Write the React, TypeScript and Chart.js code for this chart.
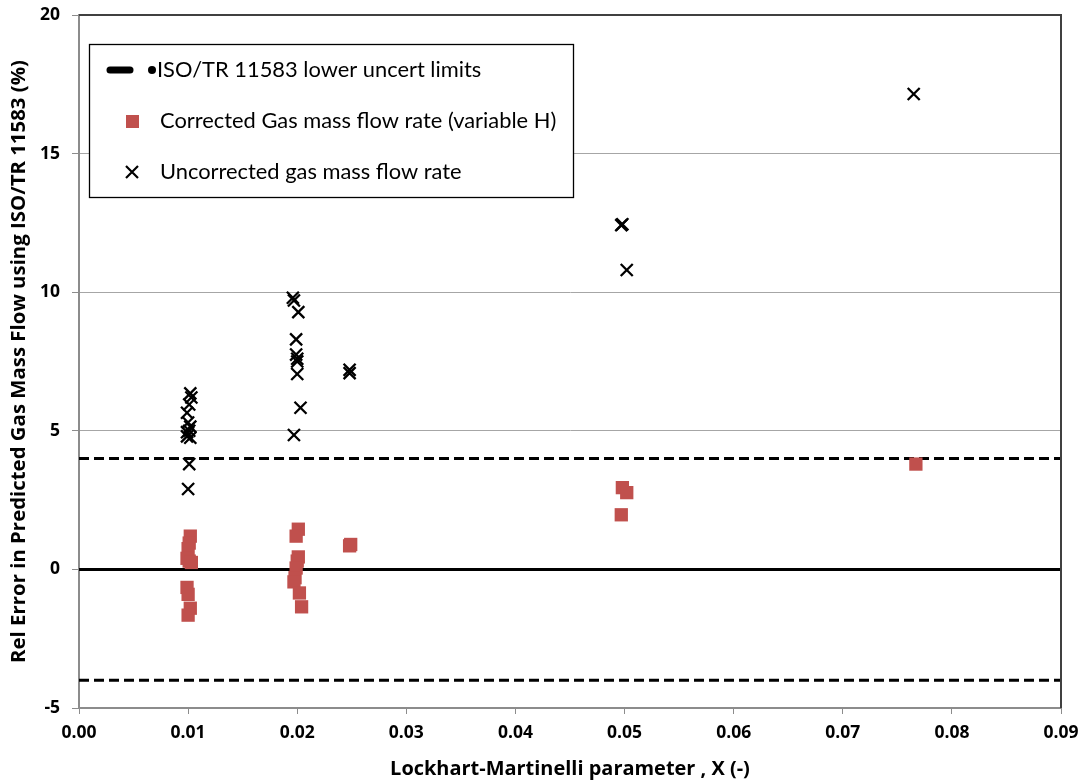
import React, { useEffect, useRef } from 'react';
import { Chart, registerables } from 'chart.js';

Chart.register(...registerables);

// X axis ticks
const xTickValues = [0, 0.01, 0.02, 0.03, 0.04, 0.05, 0.06, 0.07, 0.08, 0.09];
const yTickValues = [-5, 0, 5, 10, 15, 20];

// Uncertainty limits
const limitX = [0, 0.09];
const upperLimitY = [4, 4];
const lowerLimitY = [-4, -4];
const zeroLineY = [0, 0];

// Uncorrected gas mass flow rate
const uncorrX = [
  0.0102, 0.0103, 0.0101, 0.0099, 0.0100, 0.0102, 0.0101, 0.0099, 0.0099, 0.0102, 0.0101, 0.0100,
  0.0196, 0.0197, 0.0201, 0.0199, 0.0199, 0.0200, 0.0200, 0.0200, 0.0203, 0.0197,
  0.0248, 0.0248,
  0.0498, 0.0497, 0.0502,
  0.0765,
];
const uncorrY = [
  6.35, 6.2, 5.95, 5.65, 5.3, 5.15, 5.0, 4.95, 4.8, 4.75, 3.8, 2.9,
  9.8, 9.7, 9.28, 8.3, 7.75, 7.6, 7.5, 7.05, 5.83, 4.85,
  7.2, 7.08,
  12.45, 12.42, 10.8,
  17.15,
];

// Corrected gas mass flow rate (variable H)
const corrX = [
  0.0102, 0.0101, 0.0100, 0.0099, 0.0101, 0.0103, 0.0099, 0.0100, 0.0102, 0.0100,
  0.0201, 0.0199, 0.0201, 0.0200, 0.0199, 0.0198, 0.0197, 0.0202, 0.0204,
  0.0249, 0.0248,
  0.0498, 0.0502, 0.0497,
  0.0767,
];
const corrY = [
  1.2, 0.95, 0.75, 0.4, 0.3, 0.25, -0.65, -0.9, -1.4, -1.65,
  1.45, 1.2, 0.45, 0.3, 0.05, -0.3, -0.45, -0.85, -1.35,
  0.9, 0.85,
  2.95, 2.77, 1.97,
  3.8,
];

const legendLabels = [
  'ISO/TR 11583 lower uncert limits',
  'Corrected Gas mass flow rate (variable H)',
  'Uncorrected gas mass flow rate',
];
const xTitle = 'Lockhart-Martinelli parameter , X (-)';
const yTitle = 'Rel Error in Predicted Gas Mass Flow using ISO/TR 11583 (%)';

const RED = '#c0504d';
const LEGEND_FONT = 'Lato, "Open Sans", sans-serif';
const BOLD_FONT = '"Open Sans", "Noto Sans", sans-serif';

const zip = (xs: number[], ys: number[]) => xs.map((x, i) => ({ x, y: ys[i] }));

function fitSize(text: string, weight: string, family: string, target: number): number {
  const c = document.createElement('canvas');
  const ctx = c.getContext('2d');
  if (!ctx) return 18;
  ctx.font = `${weight} 20px ${family}`;
  const w = ctx.measureText(text).width;
  return w > 0 ? (20 * target) / w : 18;
}

const framePlugin = {
  id: 'frame',
  afterDatasetsDraw(chart: any) {
    const { ctx, chartArea } = chart;
    ctx.save();
    ctx.strokeStyle = '#404040';
    ctx.lineWidth = 2;
    ctx.beginPath();
    ctx.moveTo(chartArea.left, chartArea.top);
    ctx.lineTo(chartArea.right, chartArea.top);
    ctx.lineTo(chartArea.right, chartArea.bottom);
    ctx.stroke();
    ctx.restore();
  },
};

const makeLegendPlugin = (fontSize: number) => ({
  id: 'customLegend',
  afterDraw(chart: any) {
    const ctx = chart.ctx;
    ctx.save();
    const bx = 89, by = 44, bw = 484, bh = 153;
    ctx.fillStyle = '#ffffff';
    ctx.fillRect(bx, by, bw, bh);
    ctx.strokeStyle = '#000000';
    ctx.lineWidth = 1.3;
    ctx.strokeRect(bx + 0.5, by + 0.5, bw, bh);

    // entry 1: thick line + dot
    ctx.strokeStyle = '#000';
    ctx.lineCap = 'round';
    ctx.lineWidth = 7;
    ctx.beginPath();
    ctx.moveTo(110, 70);
    ctx.lineTo(130, 70);
    ctx.stroke();
    ctx.fillStyle = '#000';
    ctx.beginPath();
    ctx.arc(152, 70, 4, 0, Math.PI * 2);
    ctx.fill();

    // entry 2: square
    ctx.fillStyle = RED;
    ctx.fillRect(126, 115, 13, 13);

    // entry 3: cross
    ctx.strokeStyle = '#000';
    ctx.lineCap = 'butt';
    ctx.lineWidth = 2.2;
    ctx.beginPath();
    ctx.moveTo(126, 166);
    ctx.lineTo(138, 178);
    ctx.moveTo(138, 166);
    ctx.lineTo(126, 178);
    ctx.stroke();

    ctx.fillStyle = '#000';
    ctx.font = `${fontSize}px ${LEGEND_FONT}`;
    ctx.textBaseline = 'middle';
    ctx.textAlign = 'left';
    ctx.fillText(legendLabels[0], 157, 70);
    ctx.fillText(legendLabels[1], 160, 121);
    ctx.fillText(legendLabels[2], 160, 172);
    ctx.restore();
  },
});

export default function App() {
  const canvasRef = useRef<HTMLCanvasElement | null>(null);

  useEffect(() => {
    document.body.style.margin = '0';
    const canvas = canvasRef.current;
    if (!canvas) return;

    const legendSize =
      (fitSize(legendLabels[0], 'normal', LEGEND_FONT, 321) + fitSize(legendLabels[2], 'normal', LEGEND_FONT, 305)) / 2;
    const tickSize = Math.min(19, fitSize('0.00', 'bold', BOLD_FONT, 35));
    const xTitleSize = fitSize(xTitle, 'bold', BOLD_FONT, 360);
    const yTitleSize = fitSize(yTitle, 'bold', BOLD_FONT, 603);

    const chart = new Chart(canvas, {
      type: 'scatter',
      data: {
        datasets: [
          {
            type: 'line',
            label: 'upper',
            data: zip(limitX, upperLimitY),
            borderColor: '#000',
            borderWidth: 3,
            borderDash: [10, 5],
            pointRadius: 0,
            order: 3,
          },
          {
            type: 'line',
            label: 'lower',
            data: zip(limitX, lowerLimitY),
            borderColor: '#000',
            borderWidth: 3,
            borderDash: [10, 5],
            pointRadius: 0,
            order: 3,
          },
          {
            type: 'line',
            label: 'zero',
            data: zip(limitX, zeroLineY),
            borderColor: '#000',
            borderWidth: 3,
            pointRadius: 0,
            order: 3,
          },
          {
            label: legendLabels[1],
            data: zip(corrX, corrY),
            pointStyle: 'rect',
            pointRadius: 9.4,
            pointHoverRadius: 9.4,
            backgroundColor: RED,
            borderColor: RED,
            borderWidth: 0,
            order: 2,
          },
          {
            label: legendLabels[2],
            data: zip(uncorrX, uncorrY),
            pointStyle: 'crossRot',
            pointRadius: 8.5,
            pointHoverRadius: 8.5,
            borderColor: '#000',
            backgroundColor: '#000',
            borderWidth: 2.3,
            order: 1,
          },
        ],
      },
      options: {
        responsive: false,
        animation: false,
        events: [],
        layout: { padding: { top: 15, right: 22, left: 0, bottom: 0 } },
        plugins: {
          legend: { display: false },
          tooltip: { enabled: false },
          title: { display: false },
        },
        scales: {
          x: {
            type: 'linear',
            min: 0,
            max: 0.09,
            afterBuildTicks: (scale: any) => {
              scale.ticks = xTickValues.map((v) => ({ value: v }));
            },
            afterFit: (scale: any) => {
              scale.height = 75;
              scale.paddingLeft = 0;
              scale.paddingRight = 0;
            },
            ticks: {
              color: '#000',
              padding: 9,
              font: { family: BOLD_FONT, size: tickSize, weight: 'bold' },
              callback: (v: any) => Number(v).toFixed(2),
            },
            grid: {
              drawOnChartArea: false,
              drawTicks: true,
              tickLength: 6,
              tickColor: '#8c8c8c',
              color: '#8c8c8c',
            },
            border: { display: true, color: '#8c8c8c', width: 2 },
            title: {
              display: true,
              text: xTitle,
              color: '#000',
              font: { family: BOLD_FONT, size: xTitleSize, weight: 'bold' },
              padding: { top: 0, bottom: 2 },
            },
          },
          y: {
            type: 'linear',
            min: -5,
            max: 20,
            afterBuildTicks: (scale: any) => {
              scale.ticks = yTickValues.map((v) => ({ value: v }));
            },
            afterFit: (scale: any) => {
              scale.width = 79;
              scale.paddingTop = 0;
              scale.paddingBottom = 0;
            },
            ticks: {
              color: '#000',
              padding: 12,
              font: { family: BOLD_FONT, size: tickSize, weight: 'bold' },
              callback: (v: any) => String(v),
            },
            grid: {
              drawTicks: true,
              tickLength: 7,
              tickColor: '#8c8c8c',
              lineWidth: 1,
              color: (c: any) => {
                const v = c.tick ? c.tick.value : null;
                return v === 5 || v === 10 || v === 15 ? '#a6a6a6' : 'rgba(0,0,0,0)';
              },
            },
            border: { display: true, color: '#8c8c8c', width: 2 },
            title: {
              display: true,
              text: yTitle,
              color: '#000',
              font: { family: BOLD_FONT, size: yTitleSize, weight: 'bold' },
              padding: { top: 7, bottom: 0 },
            },
          },
        },
      },
      plugins: [framePlugin, makeLegendPlugin(legendSize)],
    } as any);
    return () => chart.destroy();
  }, []);

  return (
    <div style={{ width: 1083, height: 783, background: '#fff' }}>
      <canvas ref={canvasRef} width={1083} height={783} />
    </div>
  );
}
